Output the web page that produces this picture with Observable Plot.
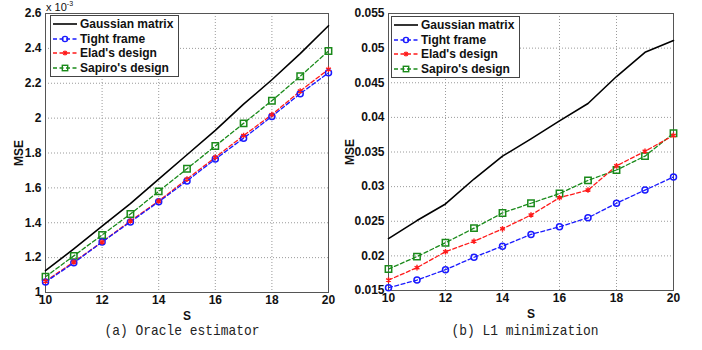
<!DOCTYPE html>
<html>
<head>
<meta charset="utf-8">
<script src="https://cdn.jsdelivr.net/npm/d3@7"></script>
<script src="https://cdn.jsdelivr.net/npm/@observablehq/plot@0.6"></script>
<style>
  html, body { margin: 0; padding: 0; background: #fff; }
  #wrap { position: relative; width: 702px; height: 350px; overflow: hidden; font-family: "Liberation Sans", Arial, sans-serif; }
  .panel { position: absolute; top: 0; }
  .cap { position: absolute; top: 323px; font-family: "Liberation Mono", "DejaVu Sans Mono", monospace; font-size: 15px; white-space: nowrap; transform: translateX(-50%) scaleX(0.86); color: #222; }
  .legend { position: absolute; background: #fff; border: 1px solid #444; font: bold 12px "Liberation Sans", Arial, sans-serif; color: #111; padding: 1px 5px 1px 2px; white-space: nowrap; }
  .legend .row { display: flex; align-items: center; height: 14.5px; }
  .legend svg { margin-right: 3px; flex: none; }
  .exp { position: absolute; font: 11px "Liberation Sans", Arial, sans-serif; color: #111; white-space: nowrap; }
</style>
</head>
<body>
<div id="wrap"></div>
<script>
// ---- Data ----
const S = [10, 11, 12, 13, 14, 15, 16, 17, 18, 19, 20];
const seriesNames = ["Gaussian matrix", "Tight frame", "Elad's design", "Sapiro's design"];
const seriesColors = ["#000000", "#1a1aff", "#ff1a1a", "#1a8a1a"];

// (a) Oracle estimator, MSE in units of 1e-3
const oracleGaussian = [1.125, 1.25, 1.38, 1.51, 1.65, 1.79, 1.93, 2.08, 2.22, 2.37, 2.53];
const oracleTight    = [1.06, 1.17, 1.29, 1.405, 1.52, 1.64, 1.765, 1.885, 2.01, 2.14, 2.26];
const oracleElad     = [1.065, 1.175, 1.29, 1.41, 1.525, 1.65, 1.775, 1.90, 2.02, 2.155, 2.28];
const oracleSapiro   = [1.09, 1.21, 1.33, 1.45, 1.58, 1.71, 1.84, 1.97, 2.10, 2.24, 2.385];

// (b) L1 minimization
const l1Gaussian = [0.0225, 0.0251, 0.0275, 0.0311, 0.0344, 0.0369, 0.0395, 0.0420, 0.0459, 0.0494, 0.0511];
const l1Tight    = [0.0154, 0.0165, 0.0180, 0.0198, 0.0214, 0.0231, 0.0242, 0.0255, 0.0276, 0.0295, 0.0314];
const l1Elad     = [0.0165, 0.0183, 0.0206, 0.0221, 0.0239, 0.0259, 0.0284, 0.0295, 0.0330, 0.0351, 0.0374];
const l1Sapiro   = [0.0181, 0.0199, 0.0219, 0.0240, 0.0262, 0.0276, 0.0290, 0.0309, 0.0324, 0.0344, 0.0377];

const xTicks = [10, 12, 14, 16, 18, 20];
const oracleYTicks = [1, 1.2, 1.4, 1.6, 1.8, 2, 2.2, 2.4, 2.6];
const l1YTicks = [0.015, 0.02, 0.025, 0.03, 0.035, 0.04, 0.045, 0.05, 0.055];

const captions = ["(a) Oracle estimator", "(b) L1 minimization"];

// ---- Build ----
function tidy(arrays) {
  const rows = [];
  arrays.forEach((arr, k) => arr.forEach((v, i) => rows.push({ s: S[i], v, name: seriesNames[k] })));
  return rows;
}

const dash = "4,2.5";
function makeChart({ arrays, yDomain, yTicks, width, mL, mR, mB, labelOffsetY }) {
  const rows = tidy(arrays);
  const by = n => rows.filter(d => d.name === n);
  return Plot.plot({
    width, height: 324,
    marginLeft: mL, marginRight: mR, marginTop: 13, marginBottom: mB,
    style: { fontFamily: "Liberation Sans, Arial, sans-serif", fontSize: "12px", fontWeight: "bold", color: "#111", background: "transparent" },
    x: { domain: [10, 20] },
    y: { domain: yDomain },
    marks: [
      Plot.gridX(xTicks, { stroke: "#9a9a9a", strokeOpacity: 1, strokeDasharray: "1,2" }),
      Plot.gridY(yTicks, { stroke: "#9a9a9a", strokeOpacity: 1, strokeDasharray: "1,2" }),
      Plot.frame({ stroke: "#555" }),
      Plot.axisX(xTicks, { tickSize: 0, tickPadding: 3, label: "S", labelAnchor: "center", labelArrow: "none", labelOffset: 27, fontWeight: "bold" }),
      Plot.axisY(yTicks, { tickSize: 0, tickPadding: 4, label: "MSE", labelAnchor: "center", labelArrow: "none", labelOffset: labelOffsetY, tickFormat: d => String(+d.toFixed(3)) }),
      Plot.line(by(seriesNames[0]), { x: "s", y: "v", stroke: seriesColors[0], strokeWidth: 1.6 }),
      Plot.line(by(seriesNames[3]), { x: "s", y: "v", stroke: seriesColors[3], strokeWidth: 1.3, strokeDasharray: dash }),
      Plot.line(by(seriesNames[2]), { x: "s", y: "v", stroke: seriesColors[2], strokeWidth: 1.3, strokeDasharray: dash }),
      Plot.line(by(seriesNames[1]), { x: "s", y: "v", stroke: seriesColors[1], strokeWidth: 1.3, strokeDasharray: dash }),
      Plot.dot(by(seriesNames[3]), { x: "s", y: "v", symbol: "square", r: 3.6, stroke: seriesColors[3], strokeWidth: 1.5, fill: "none" }),
      Plot.dot(by(seriesNames[1]), { x: "s", y: "v", symbol: "circle", r: 3, stroke: seriesColors[1], strokeWidth: 1.5, fill: "none" }),
      Plot.dot(by(seriesNames[2]), { x: "s", y: "v", symbol: "asterisk", r: 2.6, stroke: seriesColors[2], strokeWidth: 1.4 })
    ]
  });
}

function legendHTML(left, top) {
  const d = document.createElement("div");
  d.className = "legend";
  d.style.left = left + "px"; d.style.top = top + "px";
  const symbols = [
    "",
    `<circle cx="12" cy="5" r="2.6" fill="none" stroke="${seriesColors[1]}" stroke-width="1.4"/>`,
    `<path d="M9.5 5h5M12 2.5v5M10.2 3.2l3.6 3.6M13.8 3.2l-3.6 3.6" stroke="${seriesColors[2]}" stroke-width="1.2"/>`,
    `<rect x="9.3" y="2.3" width="5.4" height="5.4" fill="none" stroke="${seriesColors[3]}" stroke-width="1.4"/>`
  ];
  seriesNames.forEach((n, k) => {
    const dashAttr = k === 0 ? "" : `stroke-dasharray="${dash}"`;
    const row = document.createElement("div");
    row.className = "row";
    row.innerHTML = `<svg width="24" height="10"><line x1="0" x2="24" y1="5" y2="5" stroke="${seriesColors[k]}" stroke-width="${k === 0 ? 1.6 : 1.3}" ${dashAttr}/>${symbols[k]}</svg><span>${n}</span>`;
    d.appendChild(row);
  });
  return d;
}

const wrap = document.getElementById("wrap");

const pA = document.createElement("div"); pA.className = "panel"; pA.style.left = "0px";
pA.appendChild(makeChart({ arrays: [oracleGaussian, oracleTight, oracleElad, oracleSapiro], yDomain: [1, 2.6], yTicks: oracleYTicks, width: 340, mL: 45, mR: 12, mB: 32, labelOffsetY: 31 }));
wrap.appendChild(pA);

const pB = document.createElement("div"); pB.className = "panel"; pB.style.left = "340px";
pB.appendChild(makeChart({ arrays: [l1Gaussian, l1Tight, l1Elad, l1Sapiro], yDomain: [0.015, 0.055], yTicks: l1YTicks, width: 362, mL: 48, mR: 29, mB: 34, labelOffsetY: 43 }));
wrap.appendChild(pB);

wrap.appendChild(legendHTML(50, 15));
wrap.appendChild(legendHTML(391, 16));

const exp = document.createElement("div");
exp.className = "exp"; exp.style.left = "46px"; exp.style.top = "0px";
exp.innerHTML = "x 10<sup style='font-size:7px'>-3</sup>";
wrap.appendChild(exp);

captions.forEach((c, i) => {
  const el = document.createElement("div");
  el.className = "cap";
  el.style.left = (i === 0 ? 182 : 525) + "px";
  el.textContent = c;
  wrap.appendChild(el);
});
</script>
</body>
</html>
